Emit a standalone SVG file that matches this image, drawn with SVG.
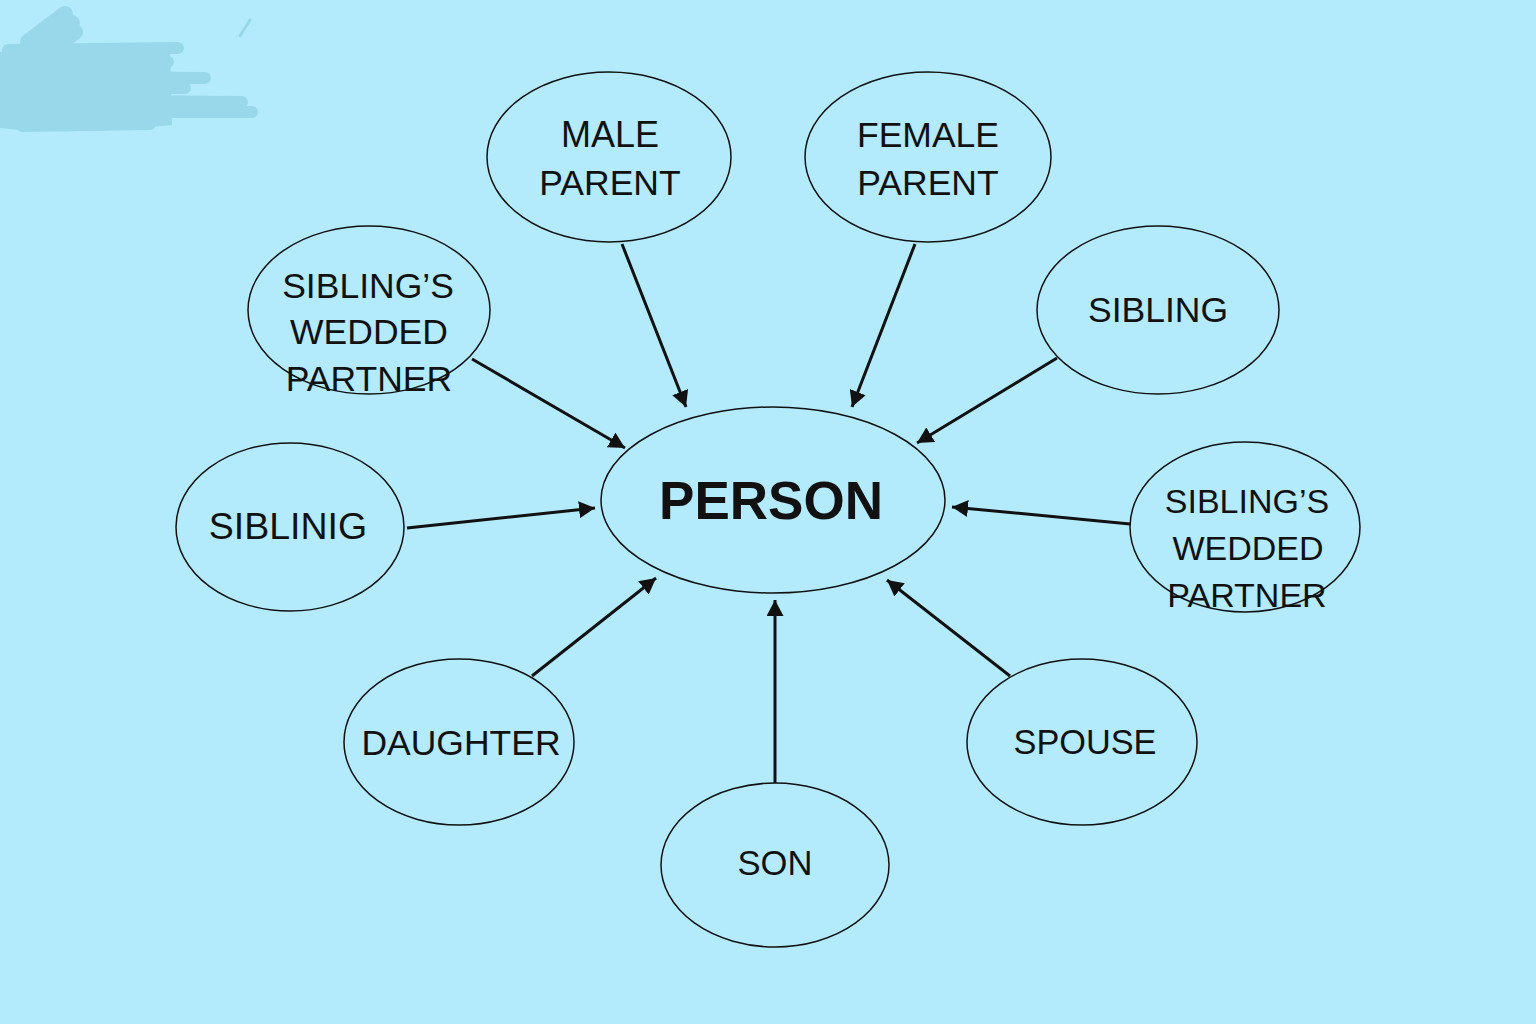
<svg xmlns="http://www.w3.org/2000/svg" width="1536" height="1024" viewBox="0 0 1536 1024">
<defs>
<marker id="ah" viewBox="0 0 16 17" refX="16" refY="8.5" markerWidth="16" markerHeight="17" markerUnits="userSpaceOnUse" orient="auto">
<path d="M0,0 L16,8.5 L0,17 z" fill="#111"/>
</marker>
<style>
.n ellipse{fill:#b3ebfd;stroke:#111;stroke-width:1.5}
.n text{font-family:"Liberation Sans",Arial,sans-serif;font-size:35.5px;fill:#111;text-anchor:middle}
.c line{stroke:#111;stroke-width:3;marker-end:url(#ah)}
.s{stroke:#98d8ea;stroke-linecap:round;fill:none}
</style>
</defs>
<rect width="1536" height="1024" fill="#b3ebfd"/>
<g id="smudge">
<path class="s" stroke-width="16" d="M28,42 L65,14 M40,45 L72,23 M50,50 L75,32"/>
<path d="M0,52 Q40,44 170,46 L172,125 Q90,134 20,130 L0,128 z" fill="#98d8ea"/>
<path class="s" stroke-width="12" d="M8,50 L178,48 M8,62 L168,62 M8,76 L205,78 M8,88 L185,88 M8,100 L242,102 M8,112 L252,112 M22,126 L150,124"/>
<path class="s" stroke-width="3" d="M240,36 L250,20"/>
</g>
<g class="c" id="connectors">
<line x1="622" y1="244" x2="686" y2="407"/>
<line x1="915" y1="244" x2="852" y2="407"/>
<line x1="472" y1="359" x2="625" y2="448"/>
<line x1="1057" y1="358" x2="917" y2="443"/>
<line x1="407" y1="528" x2="595" y2="508"/>
<line x1="1130" y1="524" x2="952" y2="507"/>
<line x1="532" y1="676" x2="656" y2="578"/>
<line x1="775" y1="783" x2="775" y2="600"/>
<line x1="1010" y1="676" x2="887" y2="580"/>
</g>
<g class="n" id="person">
<ellipse cx="773" cy="500" rx="172" ry="93"/>
<text x="771" y="519" style="font-size:53px;font-weight:bold">PERSON</text>
</g>
<g class="n" id="male-parent">
<ellipse cx="609" cy="157" rx="122" ry="85"/>
<text x="610" y="147" style="font-size:36px">MALE</text>
<text x="610" y="195" style="font-size:35.5px">PARENT</text>
</g>
<g class="n" id="female-parent">
<ellipse cx="928" cy="157" rx="123" ry="85"/>
<text x="928" y="147">FEMALE</text>
<text x="928" y="195">PARENT</text>
</g>
<g class="n" id="siblings-partner-left">
<ellipse cx="369" cy="310" rx="121" ry="84"/>
<text x="368" y="298">SIBLING’S</text>
<text x="369" y="344">WEDDED</text>
<text x="369" y="391">PARTNER</text>
</g>
<g class="n" id="sibling-right">
<ellipse cx="1158" cy="310" rx="121" ry="84"/>
<text x="1158" y="322">SIBLING</text>
</g>
<g class="n" id="siblinig-left">
<ellipse cx="290" cy="527" rx="114" ry="84"/>
<text x="288" y="539" style="font-size:37.5px">SIBLINIG</text>
</g>
<g class="n" id="siblings-partner-right">
<ellipse cx="1245" cy="527" rx="115" ry="85"/>
<text x="1247" y="513" style="font-size:34px">SIBLING’S</text>
<text x="1248" y="560" style="font-size:34px">WEDDED</text>
<text x="1247" y="607" style="font-size:34px">PARTNER</text>
</g>
<g class="n" id="daughter">
<ellipse cx="459" cy="742" rx="115" ry="83"/>
<text x="461" y="755">DAUGHTER</text>
</g>
<g class="n" id="son">
<ellipse cx="775" cy="865" rx="114" ry="82"/>
<text x="775" y="875" style="font-size:34.6px">SON</text>
</g>
<g class="n" id="spouse">
<ellipse cx="1082" cy="742" rx="115" ry="83"/>
<text x="1085" y="754" style="font-size:34.3px">SPOUSE</text>
</g>
</svg>
